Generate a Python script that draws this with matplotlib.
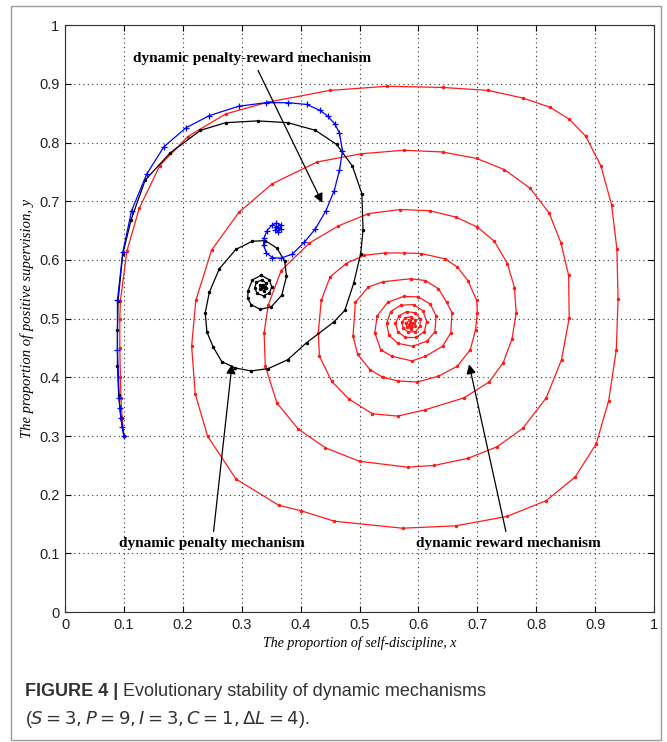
import matplotlib
matplotlib.use("Agg")
import matplotlib.pyplot as plt
from matplotlib.patches import Rectangle

# ---- data ----
reward_x = [0.100,0.097,0.095,0.094,0.093,0.093,0.094,0.105,0.126,0.161,0.208,0.273,0.345,0.450,0.547,0.641,0.718,0.777,0.824,0.856,0.884,0.910,0.928,0.937,0.939,0.936,0.923,0.902,0.866,0.817,0.750,0.663,0.573,0.457,0.400,0.363,0.290,0.242,0.221,0.215,0.222,0.249,0.295,0.352,0.428,0.503,0.575,0.641,0.699,0.746,0.790,0.822,0.842,0.855,0.856,0.843,0.817,0.777,0.734,0.684,0.627,0.582,0.500,0.442,0.396,0.360,0.340,0.338,0.345,0.367,0.415,0.464,0.515,0.569,0.619,0.664,0.700,0.729,0.751,0.763,0.766,0.759,0.744,0.720,0.677,0.612,0.565,0.522,0.482,0.453,0.432,0.430,0.435,0.450,0.477,0.508,0.544,0.576,0.605,0.645,0.666,0.684,0.699,0.700,0.697,0.688,0.666,0.634,0.598,0.565,0.540,0.518,0.497,0.489,0.493,0.515,0.540,0.587,0.612,0.634,0.648,0.657,0.655,0.641,0.612,0.589,0.555,0.536,0.526,0.530,0.548,0.575,0.600,0.620,0.630,0.628,0.615,0.590,0.565,0.550,0.546,0.553,0.570,0.592,0.608,0.614,0.610,0.596,0.578,0.565,0.561,0.567,0.580,0.595,0.603,0.603,0.595,0.583,0.574,0.572,0.578,0.588,0.595,0.595,0.588,0.580,0.579,0.585,0.590,0.588,0.584,0.585,0.587]
reward_y = [0.300,0.330,0.365,0.400,0.450,0.500,0.530,0.615,0.688,0.761,0.810,0.849,0.869,0.889,0.896,0.894,0.889,0.876,0.860,0.840,0.811,0.760,0.694,0.619,0.533,0.447,0.360,0.287,0.230,0.190,0.163,0.147,0.143,0.155,0.173,0.182,0.227,0.300,0.372,0.453,0.531,0.617,0.681,0.730,0.767,0.781,0.787,0.784,0.773,0.754,0.722,0.680,0.629,0.574,0.501,0.430,0.365,0.313,0.282,0.262,0.250,0.247,0.257,0.280,0.312,0.356,0.419,0.476,0.523,0.582,0.629,0.658,0.679,0.686,0.684,0.673,0.656,0.632,0.594,0.553,0.510,0.466,0.425,0.392,0.365,0.345,0.334,0.338,0.363,0.393,0.436,0.476,0.531,0.571,0.594,0.608,0.612,0.612,0.611,0.602,0.588,0.565,0.531,0.510,0.481,0.447,0.419,0.402,0.392,0.394,0.400,0.413,0.439,0.470,0.528,0.554,0.563,0.568,0.565,0.551,0.528,0.510,0.476,0.453,0.436,0.428,0.436,0.447,0.476,0.505,0.528,0.538,0.537,0.525,0.505,0.478,0.462,0.453,0.458,0.472,0.492,0.512,0.523,0.524,0.513,0.495,0.478,0.468,0.468,0.478,0.492,0.505,0.512,0.510,0.500,0.487,0.478,0.477,0.484,0.494,0.502,0.503,0.497,0.488,0.483,0.486,0.493,0.497,0.493,0.488,0.489,0.492,0.491]

penalty_x = [0.100,0.095,0.091,0.089,0.089,0.090,0.098,0.112,0.136,0.178,0.230,0.273,0.327,0.378,0.425,0.461,0.488,0.504,0.506,0.502,0.490,0.475,0.456,0.410,0.378,0.345,0.316,0.289,0.266,0.252,0.241,0.238,0.245,0.262,0.290,0.318,0.340,0.360,0.373,0.376,0.368,0.350,0.331,0.316,0.310,0.311,0.318,0.333,0.347,0.351,0.347,0.337,0.326,0.322,0.325,0.334,0.341,0.342,0.337,0.331,0.331,0.336,0.337,0.334]
penalty_y = [0.300,0.330,0.370,0.420,0.480,0.530,0.610,0.668,0.736,0.782,0.821,0.834,0.837,0.834,0.821,0.797,0.760,0.713,0.651,0.611,0.560,0.514,0.494,0.459,0.430,0.415,0.411,0.416,0.427,0.451,0.477,0.510,0.545,0.585,0.618,0.632,0.633,0.620,0.598,0.572,0.540,0.520,0.516,0.524,0.535,0.548,0.566,0.574,0.566,0.554,0.544,0.539,0.543,0.553,0.562,0.566,0.561,0.552,0.548,0.551,0.557,0.558,0.554,0.554]

mixed_x = [0.100,0.097,0.095,0.093,0.092,0.089,0.089,0.098,0.113,0.139,0.168,0.205,0.245,0.295,0.341,0.379,0.410,0.433,0.446,0.458,0.466,0.471,0.466,0.457,0.443,0.425,0.406,0.386,0.366,0.352,0.342,0.337,0.338,0.343,0.351,0.359,0.366,0.367,0.362,0.357,0.358,0.362,0.361]
mixed_y = [0.300,0.315,0.330,0.347,0.365,0.447,0.531,0.613,0.684,0.747,0.793,0.825,0.846,0.862,0.868,0.868,0.865,0.855,0.845,0.832,0.816,0.786,0.753,0.718,0.684,0.653,0.630,0.610,0.603,0.604,0.612,0.625,0.638,0.650,0.659,0.663,0.660,0.653,0.648,0.651,0.657,0.657,0.654]

ticks = [0, 0.1, 0.2, 0.3, 0.4, 0.5, 0.6, 0.7, 0.8, 0.9, 1]
tick_labels = ["0", "0.1", "0.2", "0.3", "0.4", "0.5", "0.6", "0.7", "0.8", "0.9", "1"]

plt.rcParams["mathtext.fontset"] = "dejavusans"

fig = plt.figure(figsize=(6.67, 7.42), dpi=100)
fig.patches.append(Rectangle((0.016, 0.003), 0.975, 0.989, transform=fig.transFigure,
                             fill=False, edgecolor="#9a9a9a", linewidth=1.0))

ax = fig.add_axes([0.0975, 0.175, 0.883, 0.791])
ax.plot(reward_x, reward_y, color="#ff1a1a", lw=0.9, marker=".", ms=3)
ax.plot(penalty_x, penalty_y, color="black", lw=0.9, marker=".", ms=3)
ax.plot(mixed_x, mixed_y, color="#0000ff", lw=0.9, marker="+", ms=5, mew=0.9)

ax.set_xlim(0, 1)
ax.set_ylim(0, 1)
ax.set_xticks(ticks)
ax.set_yticks(ticks)
tick_font = dict(family="Liberation Sans", size=10.5)
ax.set_xticklabels(tick_labels, **tick_font, color="#222222")
ax.set_yticklabels(tick_labels, **tick_font, color="#222222")
ax.tick_params(direction="in", top=True, right=True, length=4, width=0.8, pad=4)
ax.grid(True, linestyle=(0, (1, 3)), color="#333333", linewidth=0.8)
for s in ax.spines.values():
    s.set_linewidth(0.8)
    s.set_color("#333333")

ax.set_xlabel("The proportion of self-discipline, x", family="Liberation Serif",
              style="italic", size=10, labelpad=3)
ax.set_ylabel("The proportion of positive supervision, y", family="Liberation Serif",
              style="italic", size=10.5, labelpad=4)

ann_font = dict(family="Liberation Serif", weight="bold", size=11)
arrow = dict(arrowstyle="-|>", color="black", lw=0.9, mutation_scale=14)
ax.annotate("dynamic penalty-reward mechanism", xy=(0.439, 0.693), xytext=(0.318, 0.932),
            ha="center", va="bottom", arrowprops=arrow, **ann_font)
ax.annotate("dynamic penalty mechanism", xy=(0.284, 0.427), xytext=(0.25, 0.106),
            ha="center", va="bottom", arrowprops=arrow, **ann_font)
ax.annotate("dynamic reward mechanism", xy=(0.685, 0.427), xytext=(0.753, 0.106),
            ha="center", va="bottom", arrowprops=arrow, **ann_font)

# caption
cap_color = "#333333"
t1 = fig.text(0.038, 1 - 692 / 742, "FIGURE 4 |", family="Liberation Sans", weight="bold",
              size=13, color=cap_color, va="center")
fig.canvas.draw()
bb = t1.get_window_extent()
x2 = (bb.x1 + 4) / fig.bbox.width
fig.text(x2, 1 - 692 / 742, "Evolutionary stability of dynamic mechanisms",
         family="Liberation Sans", size=13, color=cap_color, va="center")
fig.text(0.038, 1 - 720 / 742, r"($S = 3, P = 9, I = 3, C = 1, \Delta L = 4$).",
         family="Liberation Sans", size=13, color=cap_color, va="center")

fig.savefig("out.png", dpi=100)
